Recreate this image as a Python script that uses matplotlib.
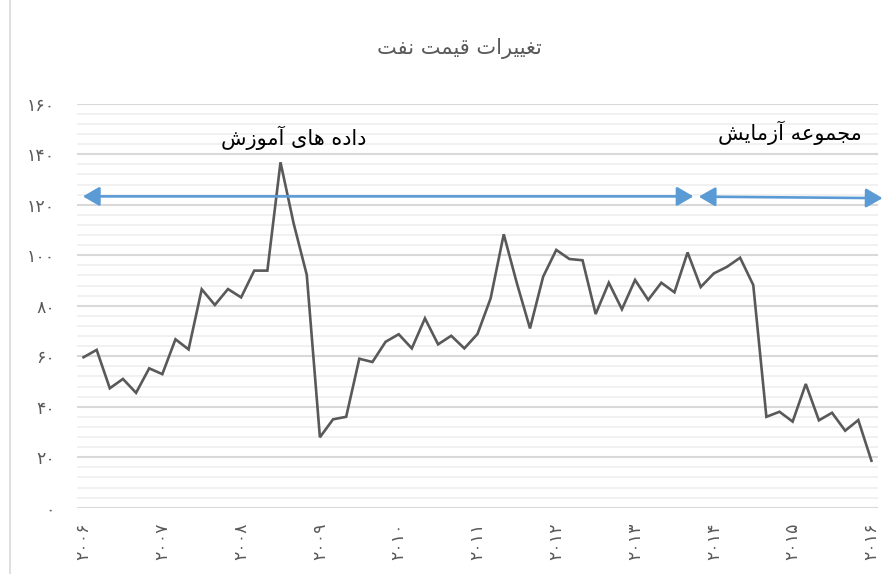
import matplotlib
matplotlib.use('Agg')
import matplotlib.pyplot as plt
from matplotlib.lines import Line2D
import numpy as np

# ---------------- data ----------------
title_text = 'تغییرات قیمت نفت'
train_text = 'داده های آموزش'
test_text = 'مجموعه آزمایش'

year_labels = ['۲۰۰۶', '۲۰۰۷', '۲۰۰۸', '۲۰۰۹', '۲۰۱۰', '۲۰۱۱',
               '۲۰۱۲', '۲۰۱۳', '۲۰۱۴', '۲۰۱۵', '۲۰۱۶']
points_per_year = 6

y_ticks = [0, 20, 40, 60, 80, 100, 120, 140, 160]
y_tick_labels = ['۰', '۲۰', '۴۰', '۶۰', '۸۰', '۱۰۰', '۱۲۰', '۱۴۰', '۱۶۰']

prices = [59.6, 62.5, 47.3, 51.0, 45.5, 55.2, 52.9, 66.7, 62.7, 86.5,
          80.3, 86.6, 83.3, 93.9, 93.9, 136.8, 112.6, 92.2, 27.9, 35.0,
          36.0, 59.0, 57.7, 65.7, 68.7, 63.1, 75.0, 64.7, 68.1, 63.1,
          68.8, 82.9, 108.3, 88.9, 71.0, 91.5, 102.1, 98.5, 98.0, 76.7,
          89.1, 78.6, 90.2, 82.3, 89.1, 85.3, 101.1, 87.4, 92.8, 95.4,
          99.0, 88.2, 36.0, 38.0, 34.1, 49.0, 34.6, 37.6, 30.5, 34.7,
          18.6]

# annotation spans (category index, value)
train_start, train_end, train_level = -0.05, 46.45, 123.3
test_start, test_end = 46.85, 60.85
test_level_start, test_level_end = 123.2, 122.6

# ---------------- minimal Arabic-script shaping ----------------
FORMS = {
    'ا': ('\uFE8D', '\uFE8E', None, None),
    'آ': ('\uFE81', '\uFE82', None, None),
    'ت': ('\uFE95', '\uFE96', '\uFE97', '\uFE98'),
    'ج': ('\uFE9D', '\uFE9E', '\uFE9F', '\uFEA0'),
    'د': ('\uFEA9', '\uFEAA', None, None),
    'ر': ('\uFEAD', '\uFEAE', None, None),
    'ز': ('\uFEAF', '\uFEB0', None, None),
    'ش': ('\uFEB5', '\uFEB6', '\uFEB7', '\uFEB8'),
    'ع': ('\uFEC9', '\uFECA', '\uFECB', '\uFECC'),
    'غ': ('\uFECD', '\uFECE', '\uFECF', '\uFED0'),
    'ف': ('\uFED1', '\uFED2', '\uFED3', '\uFED4'),
    'ق': ('\uFED5', '\uFED6', '\uFED7', '\uFED8'),
    'م': ('\uFEE1', '\uFEE2', '\uFEE3', '\uFEE4'),
    'ن': ('\uFEE5', '\uFEE6', '\uFEE7', '\uFEE8'),
    'ه': ('\uFEE9', '\uFEEA', '\uFEEB', '\uFEEC'),
    'و': ('\uFEED', '\uFEEE', None, None),
    '\u06CC': ('\uFEEF', '\uFEF0', '\uFEF3', '\uFEF4'),
    '\u064A': ('\uFEEF', '\uFEF0', '\uFEF3', '\uFEF4'),
}


def shape(s):
    out = []
    for i, c in enumerate(s):
        f = FORMS.get(c)
        if f is None:
            out.append(c)
            continue
        prev = s[i - 1] if i > 0 else None
        nxt = s[i + 1] if i + 1 < len(s) else None
        jp = prev in FORMS and FORMS[prev][2] is not None
        jn = f[2] is not None and nxt in FORMS
        if jp and jn:
            out.append(f[3])
        elif jn:
            out.append(f[2])
        elif jp:
            out.append(f[1])
        else:
            out.append(f[0])
    return ''.join(reversed(out))


plt.rcParams['font.family'] = ['DejaVu Sans']

fig = plt.figure(figsize=(8.95, 5.74), dpi=100)
ax = fig.add_axes([0.086, 0.1155, 0.895, 0.7038])

x = np.arange(len(prices))
ax.plot(x, prices, color='#595959', lw=1.9, solid_joinstyle='miter', zorder=3)

ax.set_xlim(-0.5, len(prices) - 0.5)
ax.set_ylim(0, 160)

ax.set_yticks(y_ticks)
ax.set_yticklabels(y_tick_labels)
ax.set_yticks(np.arange(0, 161, 4), minor=True)
ax.grid(which='minor', axis='y', color='#f0f0f0', lw=1.3, zorder=0)
ax.grid(which='major', axis='y', color='#d9d9d9', lw=1.5, zorder=1)
ax.grid(which='major', axis='x', visible=False)

ax.set_xticks(np.arange(0, len(prices), points_per_year))
ax.set_xticklabels(year_labels, rotation=90, va='top', ha='center')

ax.tick_params(axis='both', which='both', length=0, colors='#595959', labelsize=12.5)
ax.tick_params(axis='y', pad=16)
ax.tick_params(axis='x', pad=11)
for sp in ax.spines.values():
    sp.set_visible(False)

arrow_color = '#5b9bd5'
astyle = '<|-|>,head_length=0.5,head_width=0.29'
ax.annotate('', xy=(train_end, train_level), xytext=(train_start, train_level),
            arrowprops=dict(arrowstyle=astyle, color=arrow_color, lw=1.9,
                            mutation_scale=20, shrinkA=0, shrinkB=0), zorder=4)
ax.annotate('', xy=(test_end, test_level_end), xytext=(test_start, test_level_start),
            arrowprops=dict(arrowstyle=astyle, color=arrow_color, lw=1.9,
                            mutation_scale=20, shrinkA=0, shrinkB=0),
            annotation_clip=False, zorder=4)

ax.text(16.0, 146.4, shape(train_text), ha='center', va='center',
        fontsize=15, color='black', zorder=5)
ax.text(53.8, 148.4, shape(test_text), ha='center', va='center',
        fontsize=15, color='black', zorder=5)

fig.text(0.513, 0.916, shape(title_text), ha='center', va='center',
         fontsize=15, color='#595959')

fig.add_artist(Line2D([10.5 / 895, 10.5 / 895], [0, 1], transform=fig.transFigure,
                      color='#d9d9d9', lw=1.2))

fig.savefig('out.png', dpi=100)
